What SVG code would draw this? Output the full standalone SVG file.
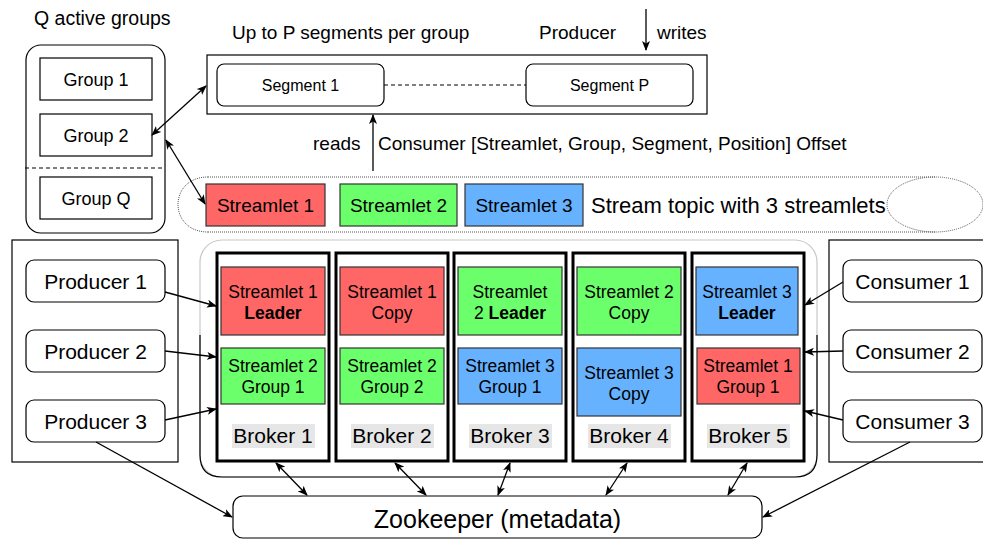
<svg xmlns="http://www.w3.org/2000/svg" width="983" height="540" viewBox="0 0 983 540">
<defs>
<marker id="arr" viewBox="0 0 10 8" refX="9" refY="4" markerWidth="10" markerHeight="8" markerUnits="userSpaceOnUse" orient="auto-start-reverse">
<path d="M0,0 L10,4 L0,8 L2.5,4 z" fill="#000"/>
</marker>
</defs>
<style>
text{font-family:"Liberation Sans",Arial,sans-serif;fill:#000}
.c{text-anchor:middle}
.box{fill:#fff;stroke:#000;stroke-width:1.2}
.broker{fill:#fff;stroke:#000;stroke-width:3}
.red{fill:#FF6666;stroke:#333;stroke-width:1.2}
.green{fill:#6BFF6B;stroke:#333;stroke-width:1.2}
.blue{fill:#66B2FF;stroke:#333;stroke-width:1.2}
.lbl{fill:#E6E6E6}
.in{font-size:17.5px}
.bl{font-size:21px}
.g{font-size:18px}
.p{font-size:21px}
.t{font-size:19px}
.dot{fill:none;stroke:#555;stroke-width:1;stroke-dasharray:1 1}
.ln{fill:none;stroke:#000;stroke-width:1.3}
</style>

<!-- titles -->
<text x="34" y="25" style="font-size:19.5px">Q active groups</text>
<text x="232" y="39" class="t">Up to P segments per group</text>
<text x="539" y="39" class="t">Producer</text>
<text x="657" y="39" class="t">writes</text>
<text x="313" y="150" class="t">reads</text>
<text x="378" y="150" class="t">Consumer [Streamlet, Group, Segment, Position] Offset</text>

<!-- groups -->
<g id="groups">
<rect x="26" y="45" width="139" height="188" rx="15" class="box"/>
<line x1="25" y1="168" x2="164" y2="168" stroke="#000" stroke-width="1.2" stroke-dasharray="4 3"/>
</g>
<g id="group1"><rect x="40" y="58" width="112" height="42" class="box"/><text x="96" y="86" class="c g">Group 1</text></g>
<g id="group2"><rect x="40" y="114" width="112" height="42" class="box"/><text x="96" y="142" class="c g">Group 2</text></g>
<g id="groupQ"><rect x="40" y="177" width="112" height="42" class="box"/><text x="96" y="205" class="c g">Group Q</text></g>

<!-- segments -->
<g id="segments"><rect x="207" y="55" width="500" height="59" class="box"/>
<line x1="384" y1="85" x2="526" y2="85" stroke="#000" stroke-width="1" stroke-dasharray="4 3"/></g>
<g id="segment1"><rect x="217" y="64" width="167" height="42" rx="7" class="box"/><text x="300.5" y="91" class="c" style="font-size:16px">Segment 1</text></g>
<g id="segmentP"><rect x="526" y="64" width="167" height="42" rx="7" class="box"/><text x="609.5" y="91" class="c" style="font-size:16px">Segment P</text></g>

<!-- stream topic -->
<g id="topic">
<path d="M208,177 L935,177 M208,232 L935,232 M208,177 C168,177 168,232 208,232" class="dot"/>
<ellipse cx="935" cy="204.5" rx="48" ry="27.5" class="dot"/>
<text x="591" y="213" style="font-size:22px">Stream topic with 3 streamlets</text>
</g>
<g id="streamlet1"><rect x="206" y="184" width="119" height="42" class="red"/><text x="265.5" y="212" class="c t">Streamlet 1</text></g>
<g id="streamlet2"><rect x="340" y="184" width="117" height="42" class="green"/><text x="398.5" y="212" class="c t">Streamlet 2</text></g>
<g id="streamlet3"><rect x="465" y="184" width="118" height="42" class="blue"/><text x="524" y="212" class="c t">Streamlet 3</text></g>

<!-- producers -->
<g id="producers"><rect x="12" y="240" width="166" height="222" class="box"/></g>
<g id="producer1"><rect x="26" y="260" width="139" height="42" rx="8" class="box"/><text x="95.5" y="289" class="c p">Producer 1</text></g>
<g id="producer2"><rect x="26" y="330" width="139" height="42" rx="8" class="box"/><text x="95.5" y="359" class="c p">Producer 2</text></g>
<g id="producer3"><rect x="26" y="400" width="139" height="42" rx="8" class="box"/><text x="95.5" y="429" class="c p">Producer 3</text></g>

<!-- consumers -->
<g id="consumers"><rect x="829" y="240" width="170" height="222" class="box"/></g>
<g id="consumer1"><rect x="843" y="260" width="139" height="42" rx="8" class="box"/><text x="912.5" y="289" class="c p">Consumer 1</text></g>
<g id="consumer2"><rect x="843" y="330" width="139" height="42" rx="8" class="box"/><text x="912.5" y="359" class="c p">Consumer 2</text></g>
<g id="consumer3"><rect x="843" y="400" width="139" height="42" rx="8" class="box"/><text x="912.5" y="429" class="c p">Consumer 3</text></g>

<!-- broker cluster -->
<g id="cluster">
<rect x="200" y="240" width="617" height="237" rx="22" fill="#fff" stroke="#C8C8C8" stroke-width="1.2"/>
<path d="M200,335 L200,455 Q200,477 222,477 L795,477 Q817,477 817,455 L817,335" fill="none" stroke="#000" stroke-width="1.2"/>
</g>

<g id="broker1">
<rect x="217" y="253" width="112" height="208" class="broker"/>
<rect x="221" y="267" width="104" height="68" class="red"/>
<text x="273" y="298" class="c in">Streamlet 1</text><text x="273" y="319" class="c in" font-weight="bold">Leader</text>
<rect x="221" y="348" width="104" height="56" class="green"/>
<text x="273" y="372" class="c in">Streamlet 2</text><text x="273" y="393" class="c in">Group 1</text>
<rect x="232" y="424" width="83" height="24" class="lbl"/><text x="273" y="443" class="c bl">Broker 1</text>
</g>
<g id="broker2">
<rect x="336" y="253" width="112" height="208" class="broker"/>
<rect x="340" y="267" width="104" height="68" class="red"/>
<text x="392" y="298" class="c in">Streamlet 1</text><text x="392" y="319" class="c in">Copy</text>
<rect x="340" y="348" width="104" height="56" class="green"/>
<text x="392" y="372" class="c in">Streamlet 2</text><text x="392" y="393" class="c in">Group 2</text>
<rect x="351" y="424" width="83" height="24" class="lbl"/><text x="392" y="443" class="c bl">Broker 2</text>
</g>
<g id="broker3">
<rect x="454" y="253" width="112" height="208" class="broker"/>
<rect x="458" y="267" width="104" height="68" class="green"/>
<text x="510" y="298" class="c in">Streamlet</text><text x="510" y="319" class="c in">2 <tspan font-weight="bold">Leader</tspan></text>
<rect x="458" y="348" width="104" height="56" class="blue"/>
<text x="510" y="372" class="c in">Streamlet 3</text><text x="510" y="393" class="c in">Group 1</text>
<rect x="469" y="424" width="83" height="24" class="lbl"/><text x="510" y="443" class="c bl">Broker 3</text>
</g>
<g id="broker4">
<rect x="573" y="253" width="112" height="208" class="broker"/>
<rect x="577" y="267" width="104" height="68" class="green"/>
<text x="629" y="298" class="c in">Streamlet 2</text><text x="629" y="319" class="c in">Copy</text>
<rect x="577" y="348" width="104" height="68" class="blue"/>
<text x="629" y="379" class="c in">Streamlet 3</text><text x="629" y="400" class="c in">Copy</text>
<rect x="588" y="424" width="83" height="24" class="lbl"/><text x="629" y="443" class="c bl">Broker 4</text>
</g>
<g id="broker5">
<rect x="692" y="253" width="112" height="208" class="broker"/>
<rect x="696" y="267" width="102" height="68" class="blue"/>
<text x="747" y="298" class="c in">Streamlet 3</text><text x="747" y="319" class="c in" font-weight="bold">Leader</text>
<rect x="697" y="348" width="103" height="56" class="red"/>
<text x="748" y="372" class="c in">Streamlet 1</text><text x="748" y="393" class="c in">Group 1</text>
<rect x="707" y="424" width="83" height="24" class="lbl"/><text x="748" y="443" class="c bl">Broker 5</text>
</g>

<g id="zookeeper">
<rect x="233" y="496" width="529" height="42" rx="10" class="box"/>
<text x="497.5" y="528" class="c" style="font-size:25px">Zookeeper (metadata)</text>
</g>

<!-- connectors -->
<g id="connectors">
<line x1="646" y1="9" x2="646" y2="50" class="ln" marker-end="url(#arr)"/>
<line x1="373" y1="171" x2="373" y2="115" class="ln" marker-end="url(#arr)"/>
<line x1="152" y1="135" x2="206" y2="86" class="ln" marker-start="url(#arr)" marker-end="url(#arr)"/>
<line x1="166" y1="140" x2="205" y2="204" class="ln" marker-start="url(#arr)" marker-end="url(#arr)"/>
<line x1="165" y1="292" x2="216" y2="306" class="ln" marker-end="url(#arr)"/>
<line x1="165" y1="351" x2="216" y2="357" class="ln" marker-end="url(#arr)"/>
<line x1="165" y1="420" x2="216" y2="409" class="ln" marker-end="url(#arr)"/>
<line x1="843" y1="282" x2="805" y2="305" class="ln" marker-end="url(#arr)"/>
<line x1="843" y1="351" x2="805" y2="352" class="ln" marker-end="url(#arr)"/>
<line x1="843" y1="420" x2="805" y2="411" class="ln" marker-end="url(#arr)"/>
<line x1="276" y1="463" x2="307" y2="495" class="ln" marker-start="url(#arr)" marker-end="url(#arr)"/>
<line x1="395" y1="463" x2="426" y2="495" class="ln" marker-start="url(#arr)" marker-end="url(#arr)"/>
<line x1="510" y1="463" x2="498" y2="495" class="ln" marker-start="url(#arr)" marker-end="url(#arr)"/>
<line x1="627" y1="463" x2="606" y2="495" class="ln" marker-start="url(#arr)" marker-end="url(#arr)"/>
<line x1="747" y1="463" x2="728" y2="495" class="ln" marker-start="url(#arr)" marker-end="url(#arr)"/>
<line x1="96" y1="442" x2="232" y2="517" class="ln" marker-end="url(#arr)"/>
<line x1="910" y1="442" x2="763" y2="517" class="ln" marker-end="url(#arr)"/>
</g>
</svg>
